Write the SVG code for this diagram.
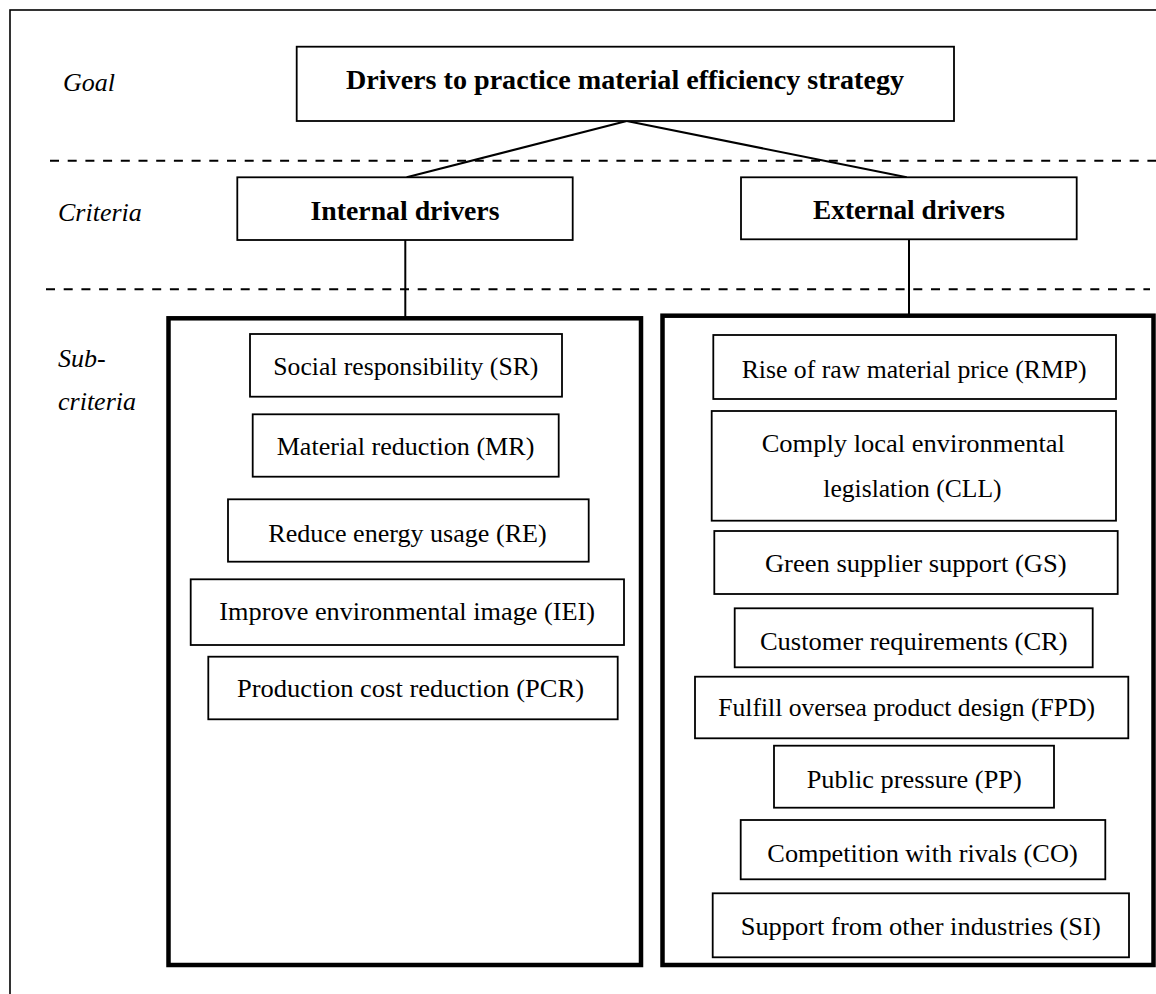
<svg xmlns="http://www.w3.org/2000/svg" width="1156" height="994" viewBox="0 0 1156 994">
<style>
.box{fill:#fff;stroke:#000;stroke-width:1.8}
.thick{fill:none;stroke:#000;stroke-width:4.5}
.t{font-family:"Liberation Serif","Times New Roman",serif;font-size:25px;fill:#000;text-anchor:middle}
.b{font-family:"Liberation Serif","Times New Roman",serif;font-size:27px;font-weight:bold;fill:#000;text-anchor:middle}
.i{font-family:"Liberation Serif","Times New Roman",serif;font-size:26px;font-style:italic;fill:#000}
.dash{stroke:#000;stroke-width:2;stroke-dasharray:9 8.7;fill:none}
.ln{stroke:#000;stroke-width:2;fill:none}
</style>
<rect x="0" y="0" width="1156" height="994" fill="#fff"/>
<rect x="10" y="10" width="1200" height="1100" fill="none" stroke="#000" stroke-width="1.6"/>
<g id="levels">
<line class="dash" x1="50" y1="160.7" x2="1156" y2="160.7"/>
<line class="dash" x1="46" y1="289.3" x2="1150" y2="289.3"/>
<text class="i" x="63" y="91">Goal</text>
<text class="i" x="58" y="221">Criteria</text>
<text class="i" x="58" y="367">Sub-</text>
<text class="i" x="58" y="410">criteria</text>
</g>
<g id="connectors">
<line class="ln" x1="626.7" y1="121" x2="406.7" y2="177.3"/>
<line class="ln" x1="626.7" y1="121" x2="906.7" y2="177.3"/>
<line class="ln" x1="405.3" y1="240" x2="405.3" y2="317"/>
<line class="ln" x1="909" y1="239.3" x2="909" y2="314"/>
</g>
<g id="goal">
<rect class="box" x="296.7" y="46.7" width="657.3" height="74.3"/>
<text class="b" x="625" y="89.3" textLength="558" lengthAdjust="spacingAndGlyphs">Drivers to practice material efficiency strategy</text>
</g>
<g id="internal">
<rect class="box" x="237.3" y="177.3" width="335.4" height="62.7"/>
<text class="b" x="405" y="220" textLength="189" lengthAdjust="spacingAndGlyphs">Internal drivers</text>
</g>
<g id="external">
<rect class="box" x="741" y="177.3" width="335.7" height="62"/>
<text class="b" x="909" y="219" textLength="192" lengthAdjust="spacingAndGlyphs">External drivers</text>
</g>
<g id="internal-group">
<rect class="thick" x="168.5" y="318.3" width="472.5" height="646.7"/>
</g>
<g id="external-group">
<rect class="thick" x="662.5" y="315.7" width="491" height="649.3"/>
</g>
<g id="SR"><rect class="box" x="250" y="334" width="312" height="62.7"/><text class="t" x="405.8" y="375" textLength="265" lengthAdjust="spacingAndGlyphs">Social responsibility (SR)</text></g>
<g id="MR"><rect class="box" x="252.7" y="414.3" width="306" height="62.4"/><text class="t" x="405.5" y="455" textLength="257.7" lengthAdjust="spacingAndGlyphs">Material reduction (MR)</text></g>
<g id="RE"><rect class="box" x="228" y="499.3" width="360.7" height="62.4"/><text class="t" x="407.5" y="541.7" textLength="278.3" lengthAdjust="spacingAndGlyphs">Reduce energy usage (RE)</text></g>
<g id="IEI"><rect class="box" x="190.7" y="579.3" width="433.3" height="65.7"/><text class="t" x="407.2" y="620" textLength="375.7" lengthAdjust="spacingAndGlyphs">Improve environmental image (IEI)</text></g>
<g id="PCR"><rect class="box" x="208.3" y="656.7" width="409.4" height="62.6"/><text class="t" x="410.5" y="696.7" textLength="347" lengthAdjust="spacingAndGlyphs">Production cost reduction (PCR)</text></g>
<g id="RMP"><rect class="box" x="713.3" y="335" width="402.7" height="64"/><text class="t" x="914.2" y="378.3" textLength="345" lengthAdjust="spacingAndGlyphs">Rise of raw material price (RMP)</text></g>
<g id="CLL"><rect class="box" x="711.7" y="411" width="404.3" height="109.7"/><text class="t" x="913.3" y="451.7" textLength="303.3" lengthAdjust="spacingAndGlyphs">Comply local environmental</text><text class="t" x="912.5" y="496.7" textLength="178.3" lengthAdjust="spacingAndGlyphs">legislation (CLL)</text></g>
<g id="GS"><rect class="box" x="714.3" y="531" width="403.4" height="63"/><text class="t" x="915.8" y="571.7" textLength="301.7" lengthAdjust="spacingAndGlyphs">Green supplier support (GS)</text></g>
<g id="CR"><rect class="box" x="734.7" y="608.3" width="358" height="59"/><text class="t" x="913.8" y="650" textLength="307.7" lengthAdjust="spacingAndGlyphs">Customer requirements (CR)</text></g>
<g id="FPD"><rect class="box" x="695" y="676.7" width="433.3" height="61.6"/><text class="t" x="906.7" y="716" textLength="376.7" lengthAdjust="spacingAndGlyphs">Fulfill oversea product design (FPD)</text></g>
<g id="PP"><rect class="box" x="774" y="745.7" width="280" height="62"/><text class="t" x="914.2" y="788.3" textLength="215" lengthAdjust="spacingAndGlyphs">Public pressure (PP)</text></g>
<g id="CO"><rect class="box" x="740.7" y="820" width="364.6" height="59.3"/><text class="t" x="922.5" y="861.7" textLength="310.3" lengthAdjust="spacingAndGlyphs">Competition with rivals (CO)</text></g>
<g id="SI"><rect class="box" x="712.7" y="893.3" width="416.3" height="64"/><text class="t" x="920.7" y="935" textLength="360" lengthAdjust="spacingAndGlyphs">Support from other industries (SI)</text></g>
</svg>
